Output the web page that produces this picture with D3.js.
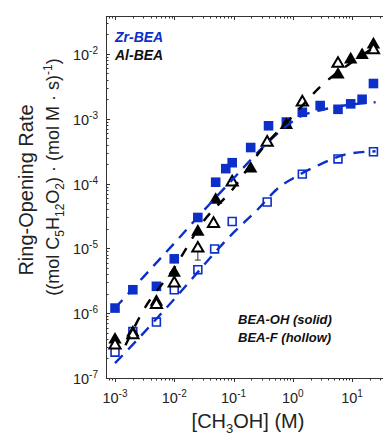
<!DOCTYPE html>
<html><head><meta charset="utf-8">
<script src="https://cdn.jsdelivr.net/npm/d3@7"></script>
<style>body{margin:0;background:#fff}svg{display:block;font-family:"Liberation Sans",Arial,sans-serif}</style>
</head><body>
<svg id="c" width="383" height="435"></svg>
<script>
// ---- data ----
const xTickExp = [-3, -2, -1, 0, 1];
const yTickExp = [-7, -6, -5, -4, -3, -2];

const zrOHConc = [0.001, 0.002, 0.005, 0.01, 0.025, 0.05, 0.074, 0.095, 0.195, 0.39, 0.78, 1.45, 2.9, 5.8, 9.5, 14.8, 23];
const zrOHRate = [1.2e-6, 2.3e-6, 2.6e-6, 6.9e-6, 3.0e-5, 1.05e-4, 1.7e-4, 2.1e-4, 3.6e-4, 7.8e-4, 8.9e-4, 1.26e-3, 1.6e-3, 1.4e-3, 1.7e-3, 2.0e-3, 3.5e-3];

const zrFConc = [0.001, 0.002, 0.005, 0.01, 0.025, 0.048, 0.095, 0.37, 1.45, 5.8, 23];
const zrFRate = [2.5e-7, 5.2e-7, 7.3e-7, 2.3e-6, 4.7e-6, 9.8e-6, 2.6e-5, 5.2e-5, 1.4e-4, 2.4e-4, 3.1e-4];

const alOHConc = [0.001, 0.002, 0.005, 0.01, 0.025, 0.05, 0.195, 0.78, 5.8, 9.5, 14.8, 23];
const alOHRate = [3.9e-7, 5.0e-7, 1.5e-6, 4.2e-6, 1.8e-5, 5.6e-5, 1.7e-4, 8.0e-4, 4.8e-3, 8.2e-3, 9.6e-3, 1.4e-2];

const alFConc = [0.001, 0.002, 0.005, 0.01, 0.025, 0.046, 0.095, 0.37, 1.45, 5.8, 23];
const alFRate = [3.2e-7, 4.6e-7, 1.35e-6, 2.9e-6, 1.0e-5, 2.4e-5, 1.05e-4, 4.3e-4, 1.8e-3, 7.1e-3, 1.15e-2];
const alFErrLow = [null, null, null, null, 6.6e-6, null, null, null, null, null, null];

// fitted curves
const zrOHFitConc = [0.001, 0.003, 0.01, 0.036, 0.1, 0.3, 0.66, 1.3, 3.2, 7.4, 25];
const zrOHFitRate = [1.2e-6, 3.6e-6, 1.2e-5, 4.4e-5, 1.2e-4, 3.5e-4, 6.8e-4, 1.07e-3, 1.38e-3, 1.6e-3, 1.8e-3];

const zrFFitConc = [0.001, 0.0022, 0.0044, 0.01, 0.016, 0.1, 0.25, 0.6, 1, 2.8, 9, 25];
const zrFFitRate = [1.7e-7, 3.6e-7, 7.2e-7, 1.65e-6, 2.7e-6, 1.75e-5, 3.9e-5, 8.9e-5, 1.2e-4, 1.95e-4, 2.9e-4, 3.15e-4];

const alFitConc = [0.0015, 0.003, 0.01, 0.03, 0.1, 0.3, 1, 3, 10, 25];
const alFitRate = [3.2e-7, 1.1e-6, 5.0e-6, 2.5e-5, 8.5e-5, 3.4e-4, 1.1e-3, 3.2e-3, 7.5e-3, 1.3e-2];

// ---- drawing ----
const blue = "#0b2fc8";
const svg = d3.select("#c");
const L = 106, R = 383, T = 16, B = 378;
const x = d3.scaleLog().domain([Math.pow(10, -3.152), Math.pow(10, 1.523)]).range([L, R]);
const y = d3.scaleLog().domain([1e-7, Math.pow(10, -1.414)]).range([B, T]);

const minorX = [], minorY = [];
for (let e = -4; e <= 1; e++) for (let m = 1; m <= 9; m++) {
  const v = m * Math.pow(10, e);
  if (v >= x.domain()[0] && v <= x.domain()[1]) minorX.push(v);
}
for (let e = -7; e <= -2; e++) for (let m = 1; m <= 9; m++) {
  const v = m * Math.pow(10, e);
  if (v >= y.domain()[0] && v <= y.domain()[1]) minorY.push(v);
}
const isMajor = v => Math.abs(Math.log10(v) - Math.round(Math.log10(v))) < 1e-9;

const ax = svg.append("g").attr("stroke", "#333").attr("stroke-width", 1);
ax.append("line").attr("x1", L).attr("x2", R).attr("y1", B + 0.5).attr("y2", B + 0.5);
ax.append("line").attr("x1", L).attr("x2", R).attr("y1", T + 0.5).attr("y2", T + 0.5);
ax.append("line").attr("x1", L + 0.5).attr("x2", L + 0.5).attr("y1", T).attr("y2", B);
minorX.forEach(v => {
  const px = Math.round(x(v)) + 0.5, len = isMajor(v) ? 4 : 2.5;
  ax.append("line").attr("x1", px).attr("x2", px).attr("y1", B).attr("y2", B + len);
  ax.append("line").attr("x1", px).attr("x2", px).attr("y1", T).attr("y2", T + len);
});
minorY.forEach(v => {
  const py = Math.round(y(v)) + 0.5, len = isMajor(v) ? 4 : 2.5;
  ax.append("line").attr("x1", L).attr("x2", L + len).attr("y1", py).attr("y2", py);
});

// tick labels
xTickExp.forEach(e => {
  const t = svg.append("text").attr("x", x(Math.pow(10, e))).attr("y", 403)
    .attr("text-anchor", "middle").attr("font-size", 14.5).attr("fill", "#222");
  t.append("tspan").text("10");
  t.append("tspan").attr("font-size", 10).attr("dy", -6).text(e);
});
yTickExp.forEach(e => {
  const t = svg.append("text").attr("x", 98).attr("y", y(Math.pow(10, e)) + 6)
    .attr("text-anchor", "end").attr("font-size", 14.5).attr("fill", "#222");
  t.append("tspan").text("10");
  t.append("tspan").attr("font-size", 10).attr("dy", -6).text(e);
});

// axis titles
const xt = svg.append("text").attr("x", 248).attr("y", 428).attr("text-anchor", "middle")
  .attr("font-size", 20).attr("fill", "#222");
xt.append("tspan").text("[CH");
xt.append("tspan").attr("font-size", 13).attr("dy", 5).text("3");
xt.append("tspan").attr("dy", -5).text("OH] (M)");

svg.append("text").attr("transform", "translate(33,190) rotate(-90)").attr("text-anchor", "middle")
  .attr("font-size", 20).attr("fill", "#222").text("Ring-Opening Rate");
const yt2 = svg.append("text").attr("transform", "translate(59,177) rotate(-90)").attr("text-anchor", "middle")
  .attr("font-size", 18).attr("fill", "#222");
yt2.append("tspan").text("((mol C");
yt2.append("tspan").attr("font-size", 12).attr("dy", 5).text("5");
yt2.append("tspan").attr("dy", -5).text("H");
yt2.append("tspan").attr("font-size", 12).attr("dy", 5).text("12");
yt2.append("tspan").attr("dy", -5).text("O");
yt2.append("tspan").attr("font-size", 12).attr("dy", 5).text("2");
yt2.append("tspan").attr("dy", -5).text(") \u00b7 (mol M \u00b7 s)");
yt2.append("tspan").attr("font-size", 12).attr("dy", -7).text("-1");
yt2.append("tspan").attr("dy", 7).text(")");

// legends
svg.append("text").attr("x", 115).attr("y", 42).attr("font-size", 14).attr("font-weight", "bold")
  .attr("font-style", "italic").attr("fill", blue).text("Zr-BEA");
svg.append("text").attr("x", 115).attr("y", 60).attr("font-size", 14).attr("font-weight", "bold")
  .attr("font-style", "italic").attr("fill", "#111").text("Al-BEA");
svg.append("text").attr("x", 238).attr("y", 324).attr("font-size", 13).attr("font-weight", "bold")
  .attr("font-style", "italic").attr("fill", "#111").text("BEA-OH (solid)");
svg.append("text").attr("x", 238).attr("y", 342).attr("font-size", 13).attr("font-weight", "bold")
  .attr("font-style", "italic").attr("fill", "#111").text("BEA-F (hollow)");

const plot = svg.append("g");
// error bar
alFConc.forEach((c, i) => {
  if (alFErrLow[i] == null) return;
  const px = x(c);
  plot.append("line").attr("x1", px).attr("x2", px).attr("y1", y(alFRate[i])).attr("y2", y(alFErrLow[i]))
    .attr("stroke", "#333").attr("stroke-width", 1);
  plot.append("line").attr("x1", px - 3).attr("x2", px + 3).attr("y1", y(alFErrLow[i])).attr("y2", y(alFErrLow[i]))
    .attr("stroke", "#333").attr("stroke-width", 1);
});

const sq = d3.symbol().type(d3.symbolSquare);
const tri = d3.symbol().type(d3.symbolTriangle);
zrFConc.forEach((c, i) => plot.append("path").attr("d", sq.size(62)())
  .attr("transform", `translate(${x(c)},${y(zrFRate[i])})`).attr("fill", "#fff").attr("stroke", blue).attr("stroke-width", 1.6));
zrOHConc.forEach((c, i) => plot.append("path").attr("d", sq.size(92)())
  .attr("transform", `translate(${x(c)},${y(zrOHRate[i])})`).attr("fill", blue));
alOHConc.forEach((c, i) => plot.append("path").attr("d", tri.size(78)())
  .attr("transform", `translate(${x(c)},${y(alOHRate[i])})`).attr("fill", "#000"));
alFConc.forEach((c, i) => plot.append("path").attr("d", tri.size(54)())
  .attr("transform", `translate(${x(c)},${y(alFRate[i])})`).attr("fill", "#fff").attr("stroke", "#000").attr("stroke-width", 2));

const line = d3.line().x(d => x(d[0])).y(d => y(d[1])).curve(d3.curveMonotoneX);
const drawFit = (cs, rs, color, dash) => plot.append("path").attr("d", line(cs.map((c, i) => [c, rs[i]])))
  .attr("fill", "none").attr("stroke", color).attr("stroke-width", 2.4).attr("stroke-dasharray", dash);
drawFit(zrOHFitConc, zrOHFitRate, blue, "11,8");
drawFit(zrFFitConc, zrFFitRate, blue, "11,8");
drawFit(alFitConc, alFitRate, "#000", "10,11");
</script>
</body></html>
